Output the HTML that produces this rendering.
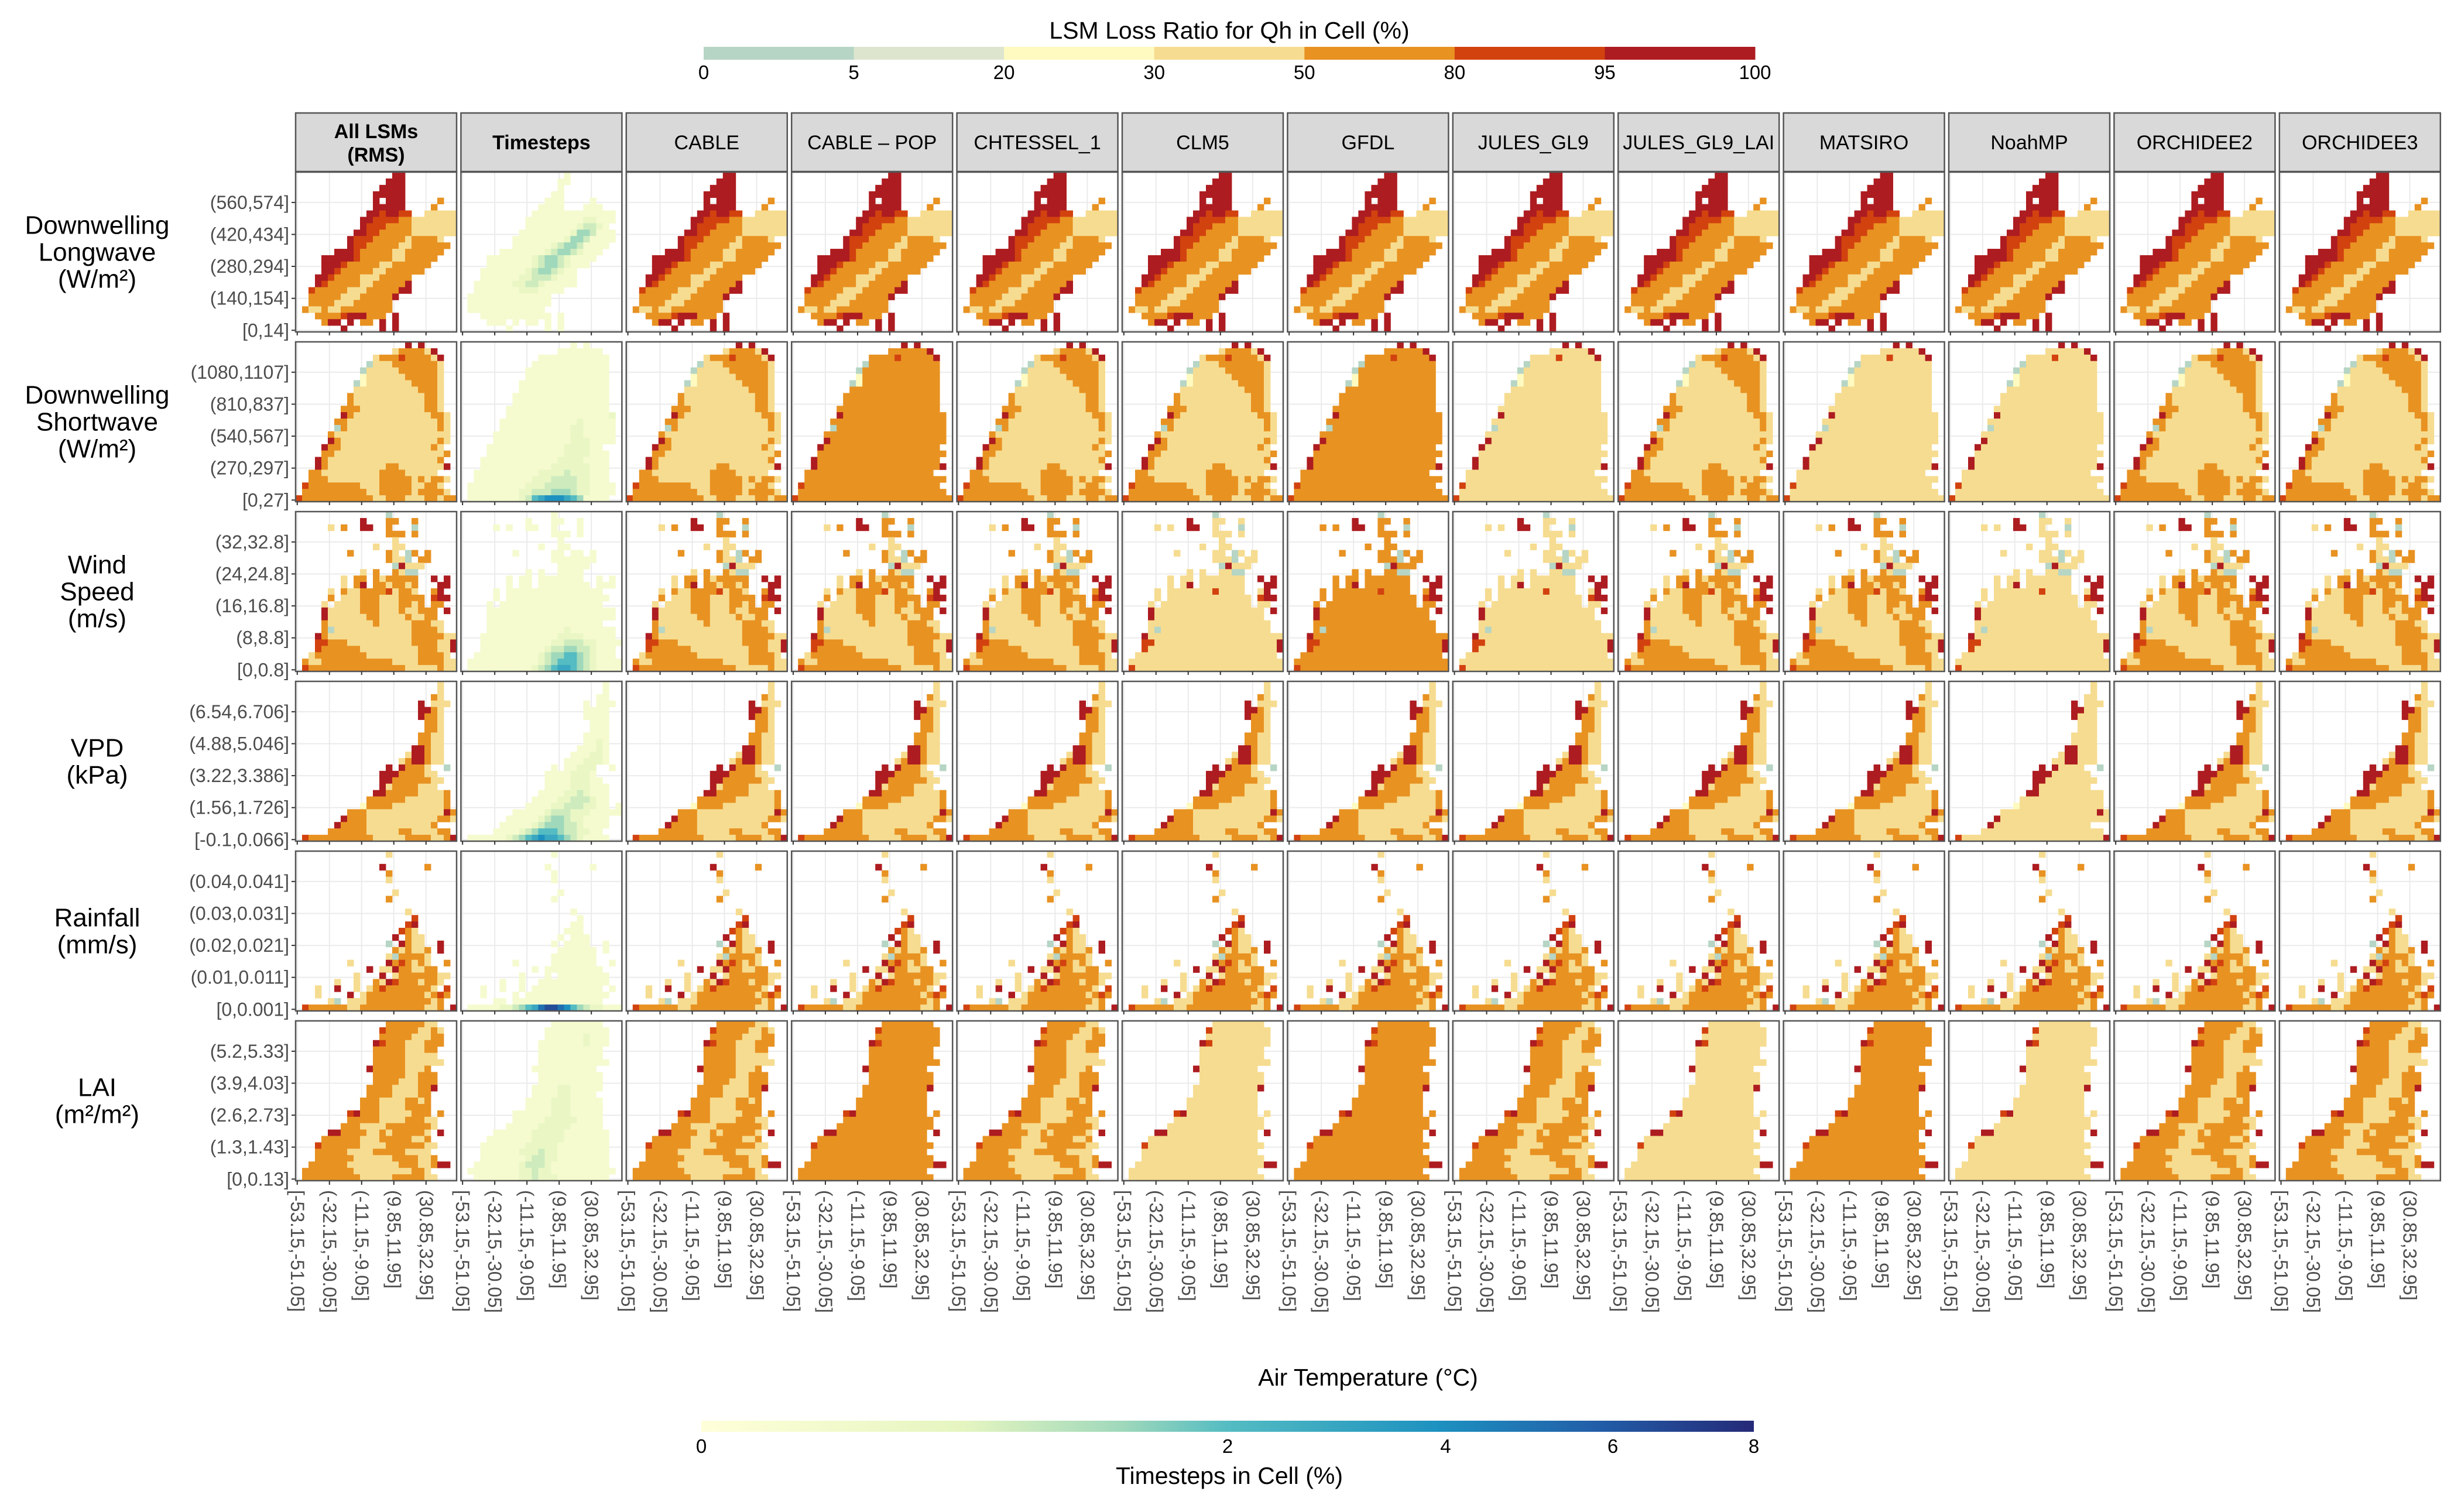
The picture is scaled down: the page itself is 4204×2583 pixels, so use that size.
<!DOCTYPE html>
<html><head><meta charset="utf-8">
<style>
html,body{margin:0;padding:0;background:#fff;}
svg{display:block;font-family:"Liberation Sans",Arial,sans-serif;}
</style></head>
<body>
<svg id="chart" xmlns="http://www.w3.org/2000/svg" width="4204" height="2583" viewBox="0 0 4204 2583">
<defs>
<linearGradient id="tsgrad" x1="0" x2="1" y1="0" y2="0">
<stop offset="0" stop-color="#ffffd9"/><stop offset="0.25" stop-color="#e5f5c0"/><stop offset="0.4" stop-color="#9fd8bb"/><stop offset="0.5" stop-color="#54bcc2"/><stop offset="0.7" stop-color="#1d91c0"/><stop offset="0.85" stop-color="#225ea8"/><stop offset="1" stop-color="#252a78"/>
</linearGradient>
</defs>
<g id="top-legend">
<text x="2100" y="66" font-size="41" text-anchor="middle">LSM Loss Ratio for Qh in Cell (%)</text>
</g>
<g id="bottom-legend">
<text x="2337" y="2367" font-size="41" text-anchor="middle">Air Temperature (°C)</text>
<rect x="1198" y="2427" width="1798" height="19" fill="url(#tsgrad)"/>
<text x="2100" y="2535" font-size="41" text-anchor="middle">Timesteps in Cell (%)</text>
</g>
<g id="panels"></g>
</svg>
<script>
const catColors = ['#b6d5c5','#dde5cf','#fefac0','#f6dc90','#e89222','#d2420f','#ad1c20'];
const catBreaks = ['0','5','20','30','50','80','95','100'];
const tsTicks = [0,2,4,6,8];
const models = ['All LSMs\n(RMS)','Timesteps','CABLE','CABLE – POP','CHTESSEL_1','CLM5','GFDL','JULES_GL9','JULES_GL9_LAI','MATSIRO','NoahMP','ORCHIDEE2','ORCHIDEE3'];
const rowLabels = [['Downwelling','Longwave','(W/m²)'],['Downwelling','Shortwave','(W/m²)'],['Wind','Speed','(m/s)'],['VPD','(kPa)'],['Rainfall','(mm/s)'],['LAI','(m²/m²)']];
const yTicks = [
 ['[0,14]','(140,154]','(280,294]','(420,434]','(560,574]'],
 ['[0,27]','(270,297]','(540,567]','(810,837]','(1080,1107]'],
 ['[0,0.8]','(8,8.8]','(16,16.8]','(24,24.8]','(32,32.8]'],
 ['[-0.1,0.066]','(1.56,1.726]','(3.22,3.386]','(4.88,5.046]','(6.54,6.706]'],
 ['[0,0.001]','(0.01,0.011]','(0.02,0.021]','(0.03,0.031]','(0.04,0.041]'],
 ['[0,0.13]','(1.3,1.43]','(2.6,2.73]','(3.9,4.03]','(5.2,5.33]']];
const xTicks = ['[-53.15,-51.05]','(-32.15,-30.05]','(-11.15,-9.05]','(9.85,11.95]','(30.85,32.95]'];
// per-model style per row: n = as ensemble, o = more 50-80%, l = more 30-50%
const modelStyles = [
 'nnnnnnnnnnn',
 'nonnolnllnn',
 'nnnlolnnlnn',
 'nnnnnnnnlnn',
 'nnnnnnnnnnn',
 'nonlonlolnn'];
const lwCats = [
"...............66........","..............666........",".............6666........","............66666........","............6.666.....4..","............66666....4...","...........6656655..33333","..........665555443333333","..........655544443333333",".........6655444443333333","........655544444344443..","........6554444433444444.","......66654444433444444..","....666665444443344444...","....66654444433444444....","....6654444433444444.....","...665444433344444.......","...654444433444446.......","..5444443334444466.......","..44444333444446.........","..4444333444444..........",".43343344444444..........","...44445666444.6.........","....466.6.44.6.6.........",".......6.....6.6........."];
const swCats = [
".................6.6.....","...............3444436...","............34445444436..","...........033344444443..","..........0333334444443..","..........2333333444443..",".........02333333344443..",".........33333333334443..","........433333333333443..","........433333333333443..",".......4443333333333443..",".......64333333333333443.","......443333333333333343.","......043333333333333343.",".....4333333333333333333.",".....6433333333333333343.","....6443333333333333343..","....44333333333333333334.","...64333333333333333334..","...643333333334433333336.","..44333333333444433333...","..4443333333344444343443.",".5444444443334444433443..",".44444444443344444344443.","5444444444443344433344344"];
const wsCats = [
"..............0..........","..........6...44..4......",".....3.4..66..4...0......","..............444.4......","...............3.........","............3..33........","........4.....43.04.4....","..............4330.44....","...............06333.....","..........3.4..4300......",".......3.44.4344444..6.6.",".......3.46.4434434...66.",".....3.433444453443..46..",".....4.3334443334444.566.","....3.33334443334434.44..","....633333444333433444.6.","....633333344333343344...","....4333333343333344433..","....4033333333333344443..","...6433333333333334444433.","...5544433333333334444336","...5444444333333333444336","..3444444443333333344443..",".433444444444443333444433",".544444444444444433333433"];
const vpdCats = [
"......................3..","......................3..",".....................43..","...................6.333.","...................6643..","...................6443..","....................443..","....................443..","...................4433..","...................4433..","..................66433..",".................366433..","................3466433..","..............6.64443..0.",".............666444433...",".............6644444433..",".............634444333...","............664444433334..","...........4444443333334..","..........24444333333334.6","........44433333333333364",".......644433333333333443","......6444433333333334...",".....4444443333344333344..",".544444444443333344443346"];
const rfCats = [
"..............3..........",".........................",".............6......4....","..............4..........","..............3..........",".........................","...............3.........","..............4..........",".........................",".................3.......","..................5......",".................56......","................543......","...............6.433.....","..............0.6433..6..","...............434334.6..","..............3044443....","........3.....6454343..4.","...........6.336443344...",".........3...6.344444433.","......3..3..43654443443..","...3..6..3.34544444443.5.","...3....6.34444444443454.",".....30.333444444444434..",".5444444334444444444334.6"];
const laiCats = [
"..............44444433...",".............5444443343..",".............4444433344..","............65444333444..","............4444433344...","............4444433333...","............44444333333..","...........6444443334....","............4444433444...","............4444333444...","...........44443333446...","...........4444333344....","..........44433334434....","..........44433334444....","........5644433333444.4..","........44444333344433...",".......444333344444443...",".....6644443343444443.6..","....44444433344444334....","...5444444333344444433...","...444443333444443333....","...4444443333334444334...","..4444443333333344433466.",".44444444333333333443....",".444444444333334444433..."];
const lwTs = [
"................1........","...............11........","...............1.........","..............11.........",".............111....1....","............1111...111...","...........1111111111111.","..........11111111122111.","..........1111111123321..",".........111111112443111.","........1111111124431111.","........111111234431111..","......1111111234432111...","....11111112344321111....","....1111111234432111.....","...111111123443211.......","...111111223332111.......","..1111112233211111.......","..11111112221111.........",".1111111111111...........",".1111111111111...........",".111111111111............","...11111111111.1.........","....111.1.11.1.1.........",".......1.....1.1........."];
const swTs = [
".................1.1.....","...............1111111...","............11111111111..","...........111111111111..","..........1111111111111..","..........1111111111111..",".........11111111111111..",".........11111111111111..","........111111111111111..","........111111111111111..",".......1111111111111111..",".......11111111111111112.","......111111111111211111.","......111111111112211111.",".....1111111111112211111.",".....1111111111112221111.","....111111111111222211...","....1111111111112222111..","...11111111111122221111..","...11111111111222222111..","..111111111122223222111..","..111111111222333322111..",".11111111122233333221111.",".11111111223334443221111.",".1111111123567776541111.."];
const wsTs = [
"..............1..........","..........1...11..1......",".....1.1..11..1...1......","..............111.1......","...............1.........","............1..11........","........1.....11.11.1....","..............1111111....","...............11111.....","..........1.1..1111......",".......1.11.1111111..1.1.",".......1.11.11111111.111.",".....1.111111111111111...",".....1.1111111111111111..","....1.1111111111111111...","....11111111111111111111.","....11111111111111111111.","....111111111111111111...","....11111111111121111111.","...111111111111222211111.","...1111111111122333221111","...111111111123344332111.","..1111111111234455432111.",".111111111112345554321111",".111111111123456654321111"];
const vpdTs = [
"......................1..","......................1..",".....................11..","...................1.111.","...................1111..","...................1111..","....................111..","....................111..","...................1111..","...................1121..","..................11121..",".................111221..","................1112221..","..............1.11222..1.",".............11112221....",".............111122211...",".............1111222111..","............11112232111..","...........111122333211..","..........1111223332211.1","........11111233322211111",".......1111123443221111..","......11111234443321111..",".....11112345554332211...",".1111112345676654321111.."];
const rfTs = [
"..............1..........",".........................",".............1......1....","..............1..........","..............1..........",".........................","...............1.........","..............1..........",".........................",".................1.......","..................1......",".................11......","................111......","...............1.111.....","..............1.1111..1..","...............111111.1..","..............1111111....","........1.....1111111..1.","...........1.111111111...",".........1...1.11111111..","......1..1..11111111111..","...1..1..1.11111111111.1.","...1....1.1111111111111..",".....11.11111111111111...",".111112234568998754322111"];
const laiTs = [
"..............11111111...",".............1111111111..",".............1111112111..","............11111112111..","............1111111111...","............1111111111...","............11111111111..","...........1111111111....","............1111111111...","............1111111111...","...........11112211111...","...........1111221111....","..........111122211111...","..........111122211111...","........11111122211111...","........11111222221111...",".......111112222211111...",".....111111222221111111..","....1111111222221111111..","...11111112222211111111..","...11111122232211111111..","...11111112332211111111..","..111111123332111111111..",".11111111223221111111111.","..111111122322211111111.."];
const catMaps = [lwCats, swCats, wsCats, vpdCats, rfCats, laiCats];
const tsMaps = [lwTs, swTs, wsTs, vpdTs, rfTs, laiTs];

const NS = 'http://www.w3.org/2000/svg';
const svg = document.getElementById('chart');
const root = document.getElementById('panels');
const PX0 = 505, PPITCH = 282.4, PW = 275, PY0 = 294, RPITCH = 290, PH = 273, NG = 25, NBIN = 50;
function mk(tag, attrs, parent){const e=document.createElementNS(NS,tag);for(const k in attrs)e.setAttribute(k,attrs[k]);(parent||root).appendChild(e);return e;}
function hex2rgb(h){return [parseInt(h.substr(1,2),16),parseInt(h.substr(3,2),16),parseInt(h.substr(5,2),16)];}
const tsStops=[[0,'#ffffd9'],[0.25,'#e5f5c0'],[0.4,'#9fd8bb'],[0.5,'#54bcc2'],[0.7,'#1d91c0'],[0.85,'#225ea8'],[1,'#252a78']];
function tsColor(t){for(let i=1;i<tsStops.length;i++){if(t<=tsStops[i][0]){const a=tsStops[i-1],b=tsStops[i];const f=(t-a[0])/(b[0]-a[0]);const ca=hex2rgb(a[1]),cb=hex2rgb(b[1]);return 'rgb('+ca.map((v,j)=>Math.round(v+(cb[j]-v)*f)).join(',')+')';}}return tsStops[tsStops.length-1][1];}
function xScale(px, col){return px + col*PW/NG;}
function yScale(py, row){return py + row*PH/NG;}
function xTickPos(px,k){return px + (10*k+0.5)*PW/NBIN;}
function yTickPos(py,k){return py + PH - (10*k+0.5)*PH/NBIN;}

const lg = document.getElementById('top-legend');
const cbX0=1202, cbX1=2998, segW=(cbX1-cbX0)/catColors.length;
catColors.forEach((c,i)=>{
  const r=mk('rect',{x:cbX0+i*segW,y:80,width:segW+0.5,height:22,fill:c},lg);
  
  
});
catBreaks.forEach((b,i)=>{
  const t=mk('text',{x:cbX0+i*segW,y:135,'font-size':33,'text-anchor':'middle'},lg);t.textContent=b;
  
  
});
const bl = document.getElementById('bottom-legend');
tsTicks.forEach(v=>{
  const x=1198+Math.sqrt(v/8)*1798;
  const t=mk('text',{x:x,y:2482,'font-size':33,'text-anchor':'middle'},bl);t.textContent=String(v);
  
  
});

for(let r=0;r<6;r++){
  const py = PY0 + r*RPITCH;
  const lines=rowLabels[r];
  const rl=mk('text',{x:166,'font-size':44,'text-anchor':'middle'});
  
  
  const lh=46, startY=py+PH/2-(lines.length-1)*lh/2+15;
  lines.forEach((ln,i)=>{const ts=mk('tspan',{x:166,y:startY+i*lh},rl);ts.textContent=ln;});
  yTicks[r].forEach((lab,k)=>{
    const y=yTickPos(py,k);
    const t=mk('text',{x:494,y:y+11,'font-size':32,'text-anchor':'end',fill:'#4d4d4d'});t.textContent=lab;
    
    
    const tl=mk('line',{x1:498,x2:505,y1:y,y2:y,stroke:'#333',"stroke-width":2});
    
    
  });
  for(let p=0;p<13;p++){
    const px = PX0 + p*PPITCH;
    const g=mk('g',{});
    
    
    mk('rect',{x:px,y:py,width:PW,height:PH,fill:'#fff'},g);
    for(let k=0;k<5;k++){
      const gx=xTickPos(px,k), gy=yTickPos(py,k);
      mk('line',{x1:gx,x2:gx,y1:py,y2:py+PH,stroke:'#ebebeb','stroke-width':2},g);
      mk('line',{x1:px,x2:px+PW,y1:gy,y2:gy,stroke:'#ebebeb','stroke-width':2},g);
    }
    const isTs = (p===1);
    const map = isTs ? tsMaps[r] : catMaps[r];
    const style = p>=2 ? modelStyles[r][p-2] : 'n';
    for(let row=0;row<NG;row++){
      const s=(map[row]||'').padEnd(NG,'.').substr(0,NG);
      for(let c=0;c<NG;c++){
        const ch=s[c]; if(ch==='.') continue;
        let v=parseInt(ch,10); let fill;
        if(isTs){fill=tsColor(v/10);}
        else{
          if(style==='o'&&v===3) v=4;
          else if(style==='l'&&v===4) v=3;
          fill=catColors[v];
        }
        const cell=mk('rect',{x:xScale(px,c),y:yScale(py,row),width:PW/NG+0.4,height:PH/NG+0.4,fill:fill},g);
        
        
      }
    }
    const bd=mk('rect',{x:px,y:py,width:PW,height:PH,fill:'none',stroke:'#555','stroke-width':2.5},g);
    
    
    if(r===0){
      const st=mk('rect',{x:px,y:193,width:PW,height:100,fill:'#d9d9d9',stroke:'#555','stroke-width':2.5});
      
      
      const cp='clip'+p;
      const cpe=mk('clipPath',{id:cp});
      mk('rect',{x:px,y:193,width:PW,height:100},cpe);
      const lines2=models[p].split('\n');
      const bold=p<2;
      const stt=mk('text',{x:px+PW/2,'font-size':34,'text-anchor':'middle','font-weight':bold?'bold':'normal','clip-path':'url(#'+cp+')'});
      
      
      const sy = lines2.length>1 ? 236 : 255;
      lines2.forEach((ln,i)=>{const ts=mk('tspan',{x:px+PW/2,y:sy+i*40},stt);ts.textContent=ln;});
    }
    if(r===5){
      xTicks.forEach((lab,k)=>{
        const x=xTickPos(px,k);
        const tl=mk('line',{x1:x,x2:x,y1:py+PH,y2:py+PH+7,stroke:'#333','stroke-width':2});
        
        
        const t=mk('text',{x:0,y:0,'font-size':32,'text-anchor':'start',fill:'#4d4d4d',transform:'translate('+(x-11)+','+(py+PH+16)+') rotate(90)'});
        t.textContent=lab;
        
        
      });
    } else {
      for(let k=0;k<5;k++){const x=xTickPos(px,k);mk('line',{x1:x,x2:x,y1:py+PH,y2:py+PH+6,stroke:'#333','stroke-width':2});}
    }
  }
}
</script>
</body></html>
